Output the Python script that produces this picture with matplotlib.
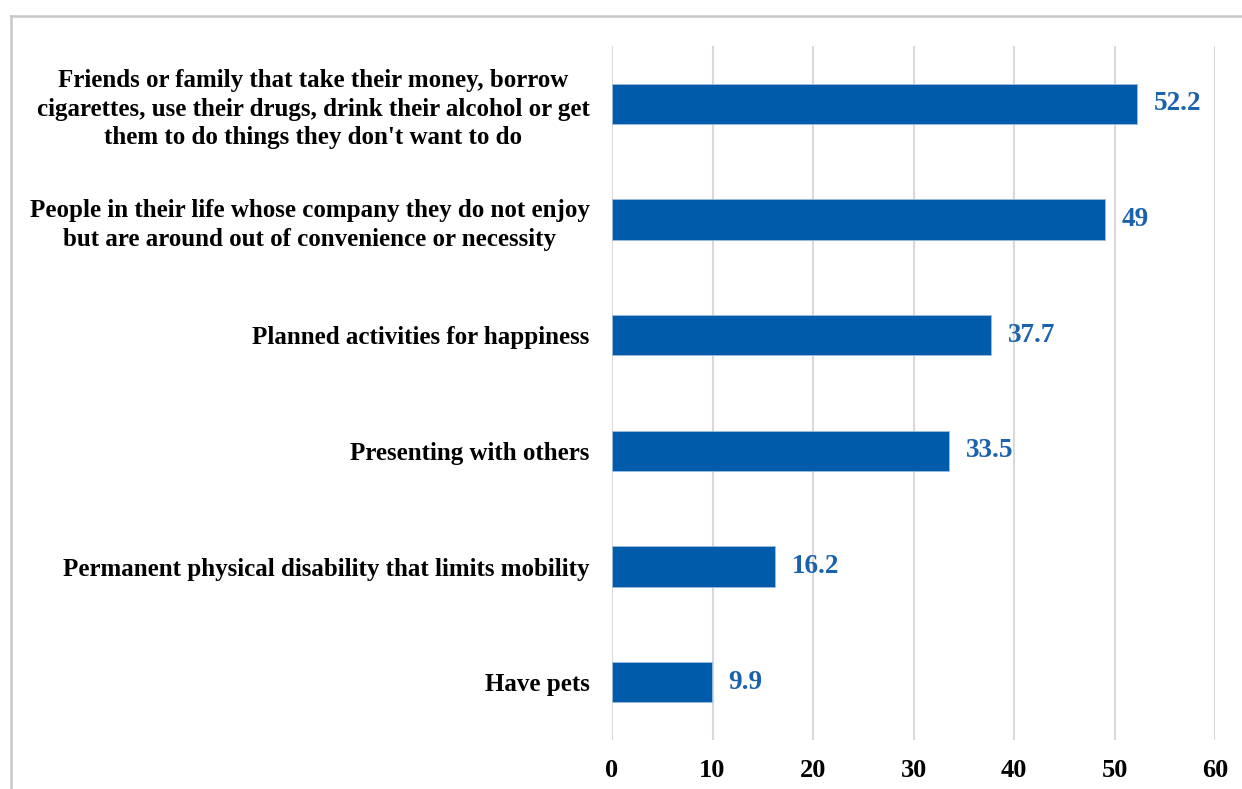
import numpy as np
import matplotlib.pyplot as plt
from matplotlib.lines import Line2D

# Datos del grafico
categories = [
    "Friends or family that take their money, borrow\n"
    "cigarettes, use their drugs, drink their alcohol or get\n"
    "them to do things they don't want to do",
    "People in their life whose company they do not enjoy\n"
    "but are around out of convenience or necessity",
    "Planned activities for happiness",
    "Presenting with others",
    "Permanent physical disability that limits mobility",
    "Have pets",
]
values = [52.2, 49, 37.7, 33.5, 16.2, 9.9]
value_labels = ["52.2", "49", "37.7", "33.5", "16.2", "9.9"]
x_ticks = [0, 10, 20, 30, 40, 50, 60]

bar_color = "#005BAA"
label_color = "#1B62AD"

plt.rcParams["font.family"] = ["Liberation Serif", "DejaVu Serif"]
plt.rcParams["font.weight"] = "bold"

fig = plt.figure(figsize=(12.42, 7.89), dpi=100)
ax = fig.add_axes([0.4928, 0.0621, 0.4855, 0.8796])

y = np.arange(len(categories))
ax.barh(y, values, height=0.35, color=bar_color, edgecolor="#9DBCE0",
        linewidth=0.6, zorder=3)

for yi, v, lab in zip(y, values, value_labels):
    ax.text(v + 1.7, yi, lab, va="center", ha="left", fontsize=19.5,
            fontweight="bold", color=label_color)

ax.set_yticks(y)
ax.set_yticklabels(categories, fontsize=18, fontweight="bold",
                   linespacing=1.32, ha="right", multialignment="center")
ax.tick_params(axis="y", length=0, pad=16)
ax.set_ylim(len(categories) - 0.5, -0.5)

ax.set_xlim(0, 60)
ax.set_xticks(x_ticks)
ax.set_xticklabels([str(t) for t in x_ticks], fontsize=19, fontweight="bold")
ax.tick_params(axis="x", length=0, pad=14)

ax.grid(axis="x", color="#D9D9D9", linewidth=1.5, zorder=0)
for s in ax.spines.values():
    s.set_visible(False)

# Marco exterior
fig.add_artist(Line2D([0.0089, 1.0], [0.9797, 0.9797], color="#C8C8C8",
                      linewidth=1.8, transform=fig.transFigure))
fig.add_artist(Line2D([0.0089, 0.0089], [0.0, 0.9797], color="#C8C8C8",
                      linewidth=1.8, transform=fig.transFigure))

fig.savefig("out.png", dpi=100)
